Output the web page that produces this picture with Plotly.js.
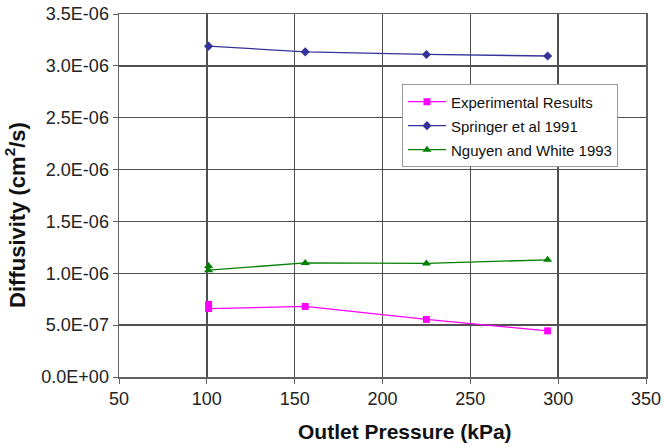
<!DOCTYPE html>
<html>
<head>
<meta charset="utf-8">
<script src="https://cdn.plot.ly/plotly-3.0.1.min.js"></script>
<style>html,body{margin:0;padding:0;background:#fff;}#chart{width:664px;height:447px;}</style>
</head>
<body>
<div id="chart"></div>
<script>
// Data
const pressureExp = [101, 101, 156, 225, 294];
const diffExperimental = [7.0e-7, 6.6e-7, 6.8e-7, 5.55e-7, 4.45e-7];
const pressureSpringer = [101, 156, 225, 294];
const diffSpringer = [3.19e-6, 3.135e-6, 3.11e-6, 3.095e-6];
const pressureNguyen = [101, 101, 156, 225, 294];
const diffNguyen = [1.07e-6, 1.03e-6, 1.10e-6, 1.095e-6, 1.13e-6];
const seriesNames = ["Experimental Results", "Springer et al 1991", "Nguyen and White 1993"];
const yTickVals = [0, 5e-7, 1e-6, 1.5e-6, 2e-6, 2.5e-6, 3e-6, 3.5e-6];
const yTickLabels = ["0.0E+00", "5.0E-07", "1.0E-06", "1.5E-06", "2.0E-06", "2.5E-06", "3.0E-06", "3.5E-06"];
const xTickVals = [50, 100, 150, 200, 250, 300, 350];

const FONT = "Liberation Sans, Arial, Helvetica, sans-serif";

const traces = [
  {x: pressureExp, y: diffExperimental, name: seriesNames[0], mode: "lines+markers", legendgroup: "a",
   line: {color: "#FF00FF", width: 1.3}, marker: {symbol: "square", size: 7, color: "#FF00FF"}},
  {x: pressureSpringer, y: diffSpringer, name: seriesNames[1], mode: "lines+markers", legendgroup: "b",
   line: {color: "#333399", width: 1.3}, marker: {symbol: "diamond", size: 7, color: "#333399"}},
  {x: pressureNguyen, y: diffNguyen, name: seriesNames[2], mode: "lines+markers", legendgroup: "c",
   line: {color: "#008000", width: 1.3}, marker: {symbol: "triangle-up", size: 8, color: "#008000"}}
];

const layout = {
  width: 664, height: 447,
  margin: {l: 119, r: 18, t: 14, b: 70},
  paper_bgcolor: "#fff", plot_bgcolor: "#fff",
  font: {family: FONT, color: "#222"},
  showlegend: true,
  legend: {x: 0.537, y: 0.806, xanchor: "left", yanchor: "top",
    bgcolor: "#fff", bordercolor: "#999", borderwidth: 1, itemwidth: 38, entrywidth: 185,
    font: {family: FONT, size: 15, color: "#111"}, traceorder: "grouped", tracegroupgap: 1.5},
  xaxis: {range: [50, 350], tickvals: xTickVals, ticks: "outside", ticklen: 5, tickcolor: "#606060",
    showgrid: true, gridcolor: "#505050", gridwidth: 1.5, zeroline: false,
    showline: true, linecolor: "#606060", linewidth: 1.5, mirror: true,
    tickfont: {family: FONT, size: 18, color: "#222"}},
  yaxis: {range: [0, 3.5e-6], tickvals: yTickVals, ticktext: yTickLabels, ticks: "outside", ticklen: 5, tickcolor: "#606060",
    showgrid: true, gridcolor: "#505050", gridwidth: 1.5, zeroline: false,
    showline: true, linecolor: "#606060", linewidth: 1.5, mirror: true,
    tickfont: {family: FONT, size: 18, color: "#222"}},
  annotations: [
    {text: "<b>Outlet Pressure (kPa)</b>", xref: "paper", yref: "paper", x: 0.5436, y: -0.149,
     xanchor: "center", yanchor: "middle", showarrow: false, font: {family: FONT, size: 21, color: "#111"}},
    {text: "<b>Diffusivity (cm<sup>2</sup>/s)</b>", xref: "paper", yref: "paper", x: -0.197, y: 0.447,
     xanchor: "center", yanchor: "middle", textangle: -90, showarrow: false, font: {family: FONT, size: 22, color: "#111"}}
  ]
};

Plotly.newPlot("chart", traces, layout, {displayModeBar: false, staticPlot: true});
</script>
</body>
</html>
